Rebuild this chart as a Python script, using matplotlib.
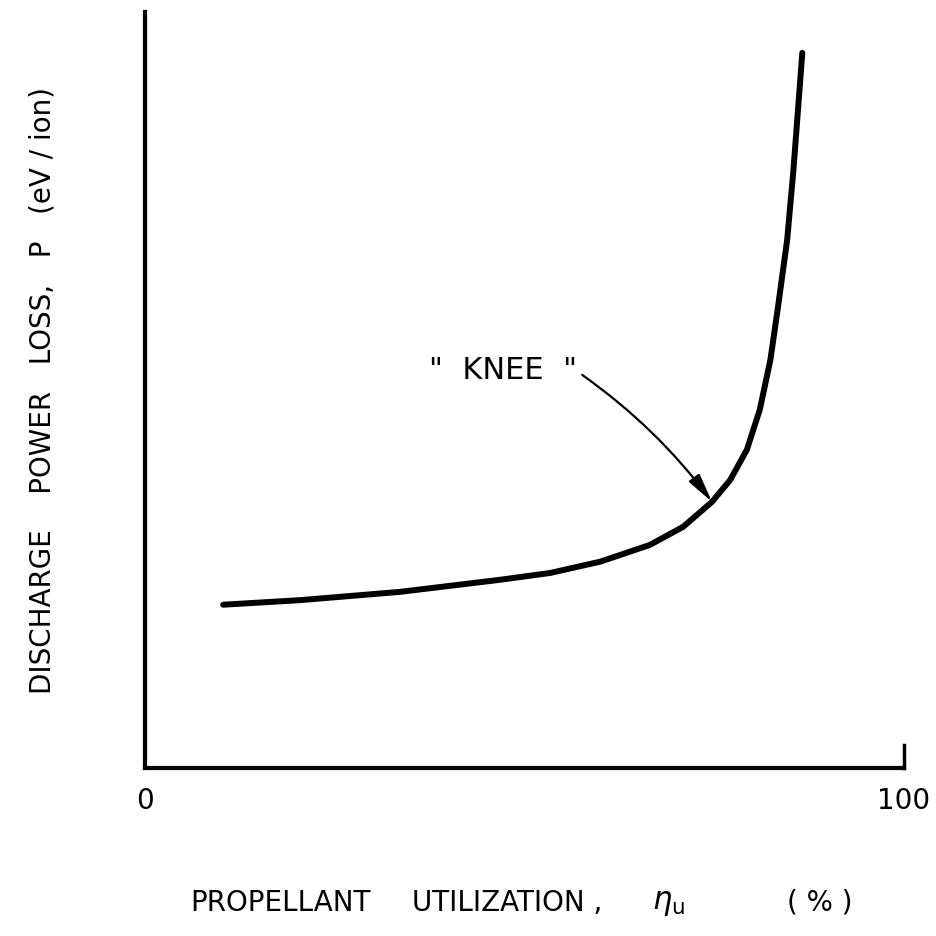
import matplotlib
matplotlib.use("Agg")
import matplotlib.pyplot as plt

# Data (x: utilization %, y: arbitrary units 0..100)
util = [10.3, 20.4, 33.6, 46.8, 53.4, 60.0, 66.5, 70.9, 74.7, 77.1, 79.3,
        81.0, 82.4, 83.4, 84.6, 85.4, 85.9, 86.6]
loss = [21.6, 22.2, 23.3, 24.9, 25.8, 27.3, 29.5, 31.9, 35.2, 38.1, 42.1,
        47.4, 54.0, 61.0, 69.8, 78.7, 85.3, 94.6]
knee_point = (74.7, 35.2)
arrow_start = (57.6, 52.0)
knee_text_pos = (47.2, 52.6)
x_ticks = [0, 100]
x_tick_labels = ["0", "100"]

plt.rcParams['font.family'] = ['DejaVu Sans']
fig = plt.figure(figsize=(9.36, 9.36), dpi=100)
ax = fig.add_axes([145/936, 1-768/936, (904-145)/936, (768-12)/936])
ax.set_xlim(0, 100)
ax.set_ylim(0, 100)

ax.plot(util, loss, color='black', lw=4.3, solid_capstyle='round', solid_joinstyle='round')

for s in ['top', 'right']:
    ax.spines[s].set_visible(False)
for s in ['left', 'bottom']:
    ax.spines[s].set_linewidth(3)
# right end tick
ax.plot([100, 100], [0, 3.0], color='black', lw=2.5, clip_on=False)

ax.set_xticks(x_ticks)
ax.set_xticklabels(x_tick_labels, fontsize=20)
ax.tick_params(axis='x', length=0, pad=14)
ax.set_yticks([])

ax.text(knee_text_pos[0], knee_text_pos[1], '"  KNEE  "', fontsize=22,
        ha='center', va='center')
ax.annotate('', xy=knee_point, xytext=arrow_start,
            arrowprops=dict(arrowstyle='-|>,head_length=0.8,head_width=0.18',
                            color='black', lw=1.6,
                            mutation_scale=22, shrinkA=0, shrinkB=0,
                            connectionstyle='arc3,rad=-0.08'))

# x axis label, pieces placed to match the widely spaced lettering
yl = 1 - 903/936
fig.text(190/936, yl, 'PROPELLANT', ha='left', va='center', fontsize=20)
fig.text(412/936, yl, 'UTILIZATION ,', ha='left', va='center', fontsize=20)
fig.text(652/936, yl, r'$\eta_{\mathrm{u}}$', ha='left', va='center', fontsize=22)
fig.text(820/936, yl, '( % )', ha='center', va='center', fontsize=20)

fig.text(0.045, 0.583, 'DISCHARGE    POWER   LOSS,   P   (eV / ion)', rotation=90,
         ha='center', va='center', fontsize=20)

fig.savefig('out.png', dpi=100)
